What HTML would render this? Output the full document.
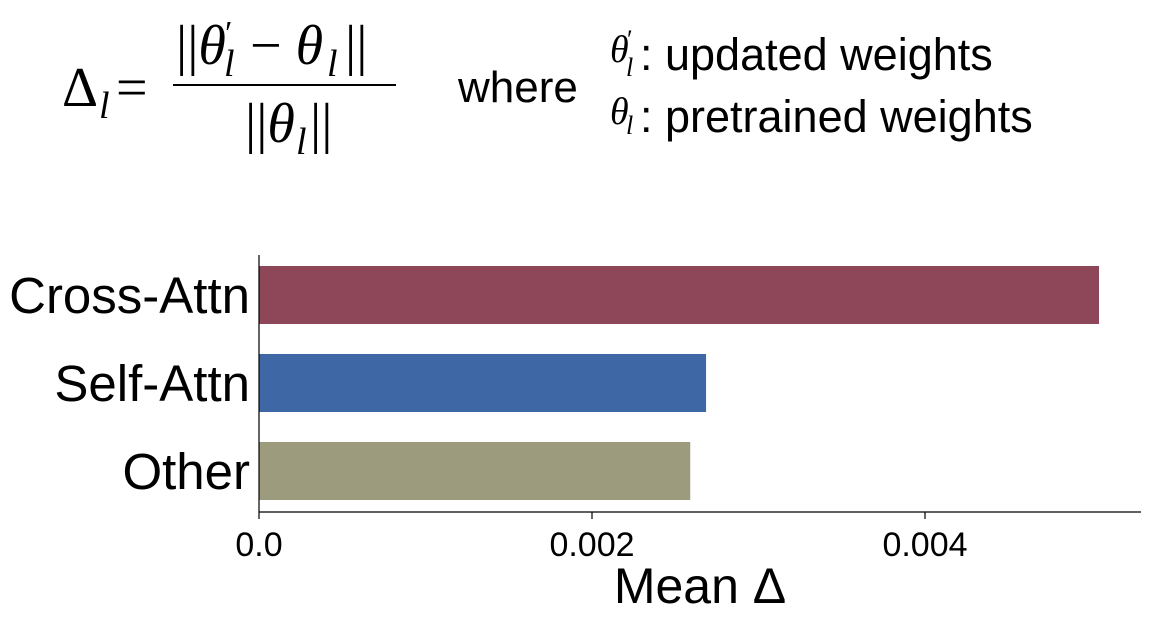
<!DOCTYPE html>
<html><head><meta charset="utf-8"><style>
body{margin:0;background:#fff;}
svg{display:block;}
.s{font-family:"Liberation Sans",sans-serif;fill:#000;}
.m{font-family:"Liberation Serif",serif;fill:#000;}
</style></head><body>
<svg width="1159" height="619" id="c">
<g>
<text class="m" x="62" y="106" font-size="56">Δ</text>
<text class="m" x="99" y="118" font-size="38" font-style="italic">l</text>
<text class="m" x="116" y="106" font-size="56">=</text>
<text class="m" x="176" y="64" font-size="56">||<tspan font-style="italic">θ</tspan></text>
<text class="m" x="225" y="44" font-size="34">′</text>
<text class="m" x="224" y="76" font-size="38" font-style="italic">l</text>
<text class="m" x="250" y="64" font-size="56">− <tspan font-style="italic">θ</tspan></text>
<text class="m" x="327" y="76" font-size="38" font-style="italic">l</text>
<text class="m" x="345" y="64" font-size="56">||</text>
<line x1="173" y1="85" x2="396" y2="85" stroke="#000" stroke-width="2"/>
<text class="m" x="245" y="142" font-size="56">||<tspan font-style="italic">θ</tspan></text>
<text class="m" x="296" y="154" font-size="38" font-style="italic">l</text>
<text class="m" x="310" y="142" font-size="56">||</text>
<text class="s" x="458" y="102" font-size="44">where</text>
<text class="m" x="610" y="62" font-size="38" font-style="italic">θ</text>
<text class="m" x="627" y="48" font-size="26">′</text>
<text class="m" x="626" y="76" font-size="26" font-style="italic">l</text>
<text class="s" x="640" y="70" font-size="45">: updated weights</text>
<text class="m" x="610" y="124" font-size="38" font-style="italic">θ</text>
<text class="m" x="626" y="134" font-size="26" font-style="italic">l</text>
<text class="s" x="640" y="132" font-size="45">: pretrained weights</text>
</g>
</svg>
<script>
const categories=["Cross-Attn","Self-Attn","Other"];
const values=[0.005045,0.002685,0.00259];
const colors=["#8e4659","#3d68a5","#9d9b7d"];
const ticks=[0,0.002,0.004];
const tickLabels=["0.0","0.002","0.004"];
const NS="http://www.w3.org/2000/svg";
const svg=document.getElementById('c');
const x0=259,pxPer=333/0.002;
const xs=v=>x0+v*pxPer;
const yTop=266,step=88,bh=58;
function mk(t,a,txt){const e=document.createElementNS(NS,t);for(const k in a)e.setAttribute(k,a[k]);if(txt!==undefined)e.textContent=txt;svg.appendChild(e);return e;}
categories.forEach((c,i)=>{
 const y=yTop+i*step;
 const r=mk('rect',{x:x0,y:y,width:xs(values[i])-x0,height:bh,fill:colors[i]});
 
 
 const t=mk('text',{class:'s',x:250,y:y+bh/2+18,'font-size':51,'text-anchor':'end'},c);
 
 
});
const ya=mk('line',{x1:x0,y1:255,x2:x0,y2:512,stroke:'#000','stroke-width':1.2});


const xa=mk('line',{x1:x0,y1:512,x2:1141,y2:512,stroke:'#000','stroke-width':1.2});


ticks.forEach((v,i)=>{
 const tk=mk('line',{x1:xs(v),y1:512,x2:xs(v),y2:519,stroke:'#000','stroke-width':1.2});
 
 
 const tl=mk('text',{class:'s',x:xs(v),y:556,'font-size':34,'text-anchor':'middle'},tickLabels[i]);
 
 
});
const xt=mk('text',{class:'s',x:700,y:603,'font-size':50,'text-anchor':'middle'},'Mean Δ');


</script>
</body></html>
